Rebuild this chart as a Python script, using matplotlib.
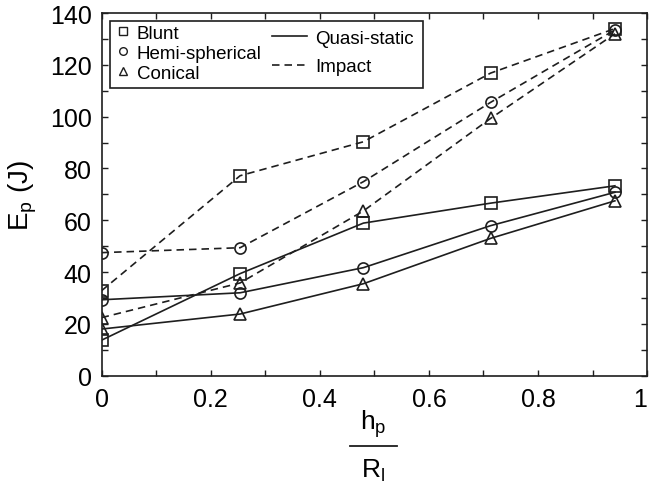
import matplotlib
matplotlib.use('Agg')
import matplotlib.pyplot as plt
from matplotlib.patches import Rectangle
from matplotlib.lines import Line2D
from matplotlib.ticker import MultipleLocator

plt.rcParams['font.family'] = 'Liberation Sans'
plt.rcParams['mathtext.fontset'] = 'custom'
plt.rcParams['mathtext.rm'] = 'Liberation Sans'
plt.rcParams['mathtext.it'] = 'Liberation Sans'

# h_p / R_l
ratio = [0.0, 0.254, 0.48, 0.713, 0.941]

# quasi-static energy (J)
qs_blunt = [13.7, 39.4, 58.9, 66.6, 73.3]
qs_hemi = [29.3, 32.0, 41.7, 57.9, 70.8]
qs_conical = [18.0, 23.8, 35.5, 53.0, 67.5]

# impact energy (J)
imp_blunt = [32.8, 77.2, 90.3, 116.8, 134.0]
imp_hemi = [47.5, 49.4, 74.9, 105.5, 133.5]
imp_conical = [22.4, 35.8, 63.6, 99.3, 132.0]

col = '#1e1e1e'
dash = (0, (4.5, 3))

fig = plt.figure(figsize=(6.51, 4.89), dpi=100)
ax = fig.add_axes([0.156, 0.2297, 0.838, 0.7416])

mk = dict(color=col, markerfacecolor='none', markeredgecolor=col, markersize=8, markeredgewidth=1.2, lw=1.2)
ax.plot(ratio, qs_blunt, marker='s', linestyle='-', **mk)
ax.plot(ratio, qs_hemi, marker='o', linestyle='-', **mk)
ax.plot(ratio, qs_conical, marker='^', linestyle='-', **mk)
ax.plot(ratio, imp_blunt, marker='s', linestyle=dash, **mk)
ax.plot(ratio, imp_hemi, marker='o', linestyle=dash, **mk)
ax.plot(ratio, imp_conical, marker='^', linestyle=dash, **mk)

ax.set_xlim(0, 1)
ax.set_ylim(0, 140)
ax.xaxis.set_minor_locator(MultipleLocator(0.1))
ax.yaxis.set_major_locator(MultipleLocator(20))
ax.yaxis.set_minor_locator(MultipleLocator(10))
ax.set_xticks([0, 0.2, 0.4, 0.6, 0.8, 1.0])
ax.set_xticklabels(['0', '0.2', '0.4', '0.6', '0.8', '1'])
ax.tick_params(which='both', direction='in', top=True, right=True, length=4, width=1, labelsize=18, color=col)
ax.tick_params(axis='x', pad=8)
ax.tick_params(axis='y', pad=7)
# keep the last x label inside the figure
ax.get_xticklabels()[-1].set_horizontalalignment('right')
for s in ax.spines.values():
    s.set_linewidth(1.2)
    s.set_color(col)

ax.set_ylabel(r'$\mathrm{E_p}$ (J)', fontsize=20, labelpad=8)

# x label drawn as a stacked fraction
fig.text(0.573, 0.1207, r'$\mathrm{h_p}$', fontsize=19, ha='center', va='baseline')
fig.text(0.573, 0.0225, r'$\mathrm{R_l}$', fontsize=19, ha='center', va='baseline')
fig.add_artist(Line2D([0.5376, 0.6098], [0.0859, 0.0859], transform=fig.transFigure, color=col, lw=1.3))

# legend box
ax.add_patch(Rectangle((0.0152, 0.793), 0.574, 0.186, transform=ax.transAxes,
                       fill=False, lw=1.2, edgecolor=col, zorder=5))
h1 = [Line2D([], [], marker=m, linestyle='none', markerfacecolor='none',
             markeredgecolor=col, markersize=5.5) for m in ['s', 'o', '^']]
leg1 = ax.legend(h1, ['Blunt', 'Hemi-spherical', 'Conical'], loc='upper left',
                 bbox_to_anchor=(0.0116, 0.9887), frameon=False, fontsize=13.5,
                 handlelength=0.8, handletextpad=0.35, labelspacing=0.15, borderaxespad=0)
ax.add_artist(leg1)
h2 = [Line2D([], [], color=col, lw=1.2, linestyle='-'),
      Line2D([], [], color=col, lw=1.2, linestyle=dash)]
ax.legend(h2, ['Quasi-static', 'Impact'], loc='upper left',
          bbox_to_anchor=(0.2985, 0.975), frameon=False, fontsize=13.5,
          handlelength=1.87, handletextpad=0.43, labelspacing=0.6, borderaxespad=0)

fig.savefig('out.png', dpi=100)
